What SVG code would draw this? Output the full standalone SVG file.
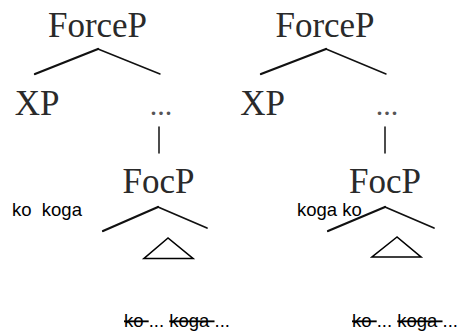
<svg xmlns="http://www.w3.org/2000/svg" width="458" height="333" viewBox="0 0 458 333">
<style>
.cat{font-family:"Liberation Serif","Times New Roman",serif;font-size:35px;fill:#2a2a2a}
.dots{font-family:"Liberation Serif",serif;font-size:30px;fill:#555}
.w{font-family:"Liberation Sans",Arial,sans-serif;font-size:18.5px;fill:#000}
.s{text-decoration:line-through}
.br{stroke:#111;fill:none;stroke-linecap:round}
.tri{stroke:#000;stroke-width:1.6;fill:none;stroke-linejoin:miter}
</style>
<rect width="458" height="333" fill="#fff"/>
<g id="connectors">
  <path class="br" d="M98 49 L35 74" stroke-width="2.3"/>
  <path class="br" d="M98 49 L160 74" stroke-width="1.5"/>
  <path class="br" d="M159 127 L159 153" stroke-width="1.5"/>
  <path class="br" d="M158 207 L103 231" stroke-width="2.2"/>
  <path class="br" d="M158 207 L207 228" stroke-width="1.8"/>
  <path class="br" d="M326 49 L261 74" stroke-width="2.3"/>
  <path class="br" d="M326 49 L386 74" stroke-width="1.5"/>
  <path class="br" d="M385 127 L385 153" stroke-width="1.5"/>
  <path class="br" d="M385 207 L328 231" stroke-width="2.2"/>
  <path class="br" d="M385 207 L434 228" stroke-width="1.8"/>
</g>
<g id="forceP1"><text class="cat" x="97.5" y="37" text-anchor="middle">ForceP</text></g>
<g id="xp1"><text class="cat" x="37" y="115" text-anchor="middle">XP</text></g>
<g id="dots1"><text class="dots" x="161" y="115" text-anchor="middle">...</text></g>
<g id="focP1"><text class="cat" x="158.5" y="193" text-anchor="middle">FocP</text></g>
<g id="tri1"><polygon class="tri" points="168,238 144,258.5 193,258.5"/></g>
<g id="label1"><text class="w" x="12" y="216" xml:space="preserve">ko  koga</text></g>
<g id="bottom1"><text class="w" x="124" y="327" xml:space="preserve"><tspan class="s">ko </tspan>... <tspan class="s">koga </tspan>...</text></g>
<g id="forceP2"><text class="cat" x="325" y="37" text-anchor="middle">ForceP</text></g>
<g id="xp2"><text class="cat" x="262.5" y="115" text-anchor="middle">XP</text></g>
<g id="dots2"><text class="dots" x="387" y="115" text-anchor="middle">...</text></g>
<g id="focP2"><text class="cat" x="385" y="193" text-anchor="middle">FocP</text></g>
<g id="tri2"><polygon class="tri" points="397,237 372,257 421,257"/></g>
<g id="label2"><text class="w" x="297" y="216">koga ko</text></g>
<g id="bottom2"><text class="w" x="352" y="327" xml:space="preserve"><tspan class="s">ko </tspan>... <tspan class="s">koga </tspan>...</text></g>
</svg>
